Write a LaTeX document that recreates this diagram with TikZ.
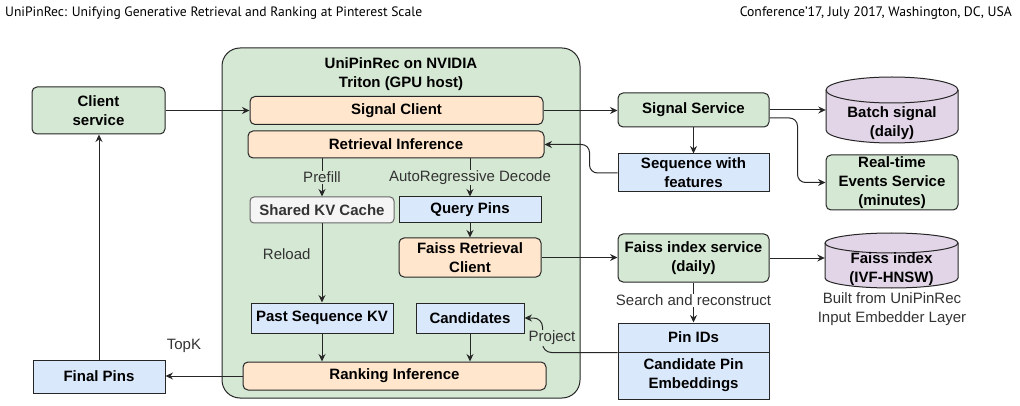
\documentclass[tikz,border=0pt]{standalone}
\usepackage{fontspec}
\setmainfont{Liberation Sans}
\newfontfamily\hdrfont{PT Sans}
\usetikzlibrary{arrows.meta}
\definecolor{cgreen}{HTML}{D5E8D4}
\definecolor{corange}{HTML}{FFE6CC}
\definecolor{cblue}{HTML}{DAE8FC}
\definecolor{cpurple}{HTML}{E1D5E7}
\definecolor{cgray}{HTML}{F5F5F5}
\definecolor{cgrayline}{HTML}{666666}
\definecolor{cgraytext}{HTML}{333333}
\definecolor{lc}{HTML}{262626}
\definecolor{lblc}{HTML}{333333}
\begin{document}
\begin{tikzpicture}[x=1pt,y=-1pt,
  every node/.style={font=\fontsize{15}{19}\selectfont\bfseries, align=center, inner sep=0pt, text=black},
  bx/.style={draw=lc, line width=1pt},
  grn/.style={bx, fill=cgreen, rounded corners=5pt},
  org/.style={bx, fill=corange, rounded corners=5pt},
  blu/.style={bx, fill=cblue},
  gry/.style={draw=cgrayline, line width=1pt, fill=cgray, text=cgraytext, rounded corners=4pt},
  arr/.style={-{Stealth[length=7.5pt,width=7pt,inset=2.5pt]}, line width=1pt, draw=lc},
  lbl/.style={font=\fontsize{15}{19}\selectfont, text=lblc, inner sep=1pt},
  hdr/.style={font=\fontsize{12}{14}\selectfont\hdrfont, text=black}
]
\useasboundingbox (0,0) rectangle (1020,406);

% header
\node[hdr, anchor=west] (hl) at (5,13) {\resizebox{417pt}{!}{UniPinRec: Unifying Generative Retrieval and Ranking at Pinterest Scale}};
\node[hdr, anchor=east] (hr) at (1012,13) {\resizebox{272pt}{!}{Conference’17, July 2017, Washington, DC, USA}};

% GPU container
\node[bx, fill=cgreen, rounded corners=18pt, minimum width=358pt, minimum height=350pt] (gpu) at (401,223) {};
\node (gputitle) at (401,74) {UniPinRec on NVIDIA\\Triton (GPU host)};

% left column
\node[grn, minimum width=133pt, minimum height=47pt] (cs) at (98.5,110.5) {Client\\service};
\node[blu, minimum width=132pt, minimum height=33pt] (final) at (99,376.5) {Final Pins};

% inside container
\node[org, minimum width=293pt, minimum height=28pt] (sc) at (396.5,110.5) {Signal Client};
\node[org, minimum width=296pt, minimum height=27pt] (ri) at (396,144.5) {Retrieval Inference};
\node[gry, minimum width=144pt, minimum height=26pt] (skv) at (322,210) {Shared KV Cache};
\node[blu, minimum width=142pt, minimum height=26pt] (qp) at (470,210) {Query Pins};
\node[org, minimum width=142pt, minimum height=39pt] (frc) at (470,257.5) {Faiss Retrieval\\Client};
\node[blu, minimum width=142pt, minimum height=30pt] (pskv) at (322,318) {Past Sequence KV};
\node[blu, minimum width=108pt, minimum height=30pt] (cand) at (470,318) {Candidates};
\node[org, minimum width=303pt, minimum height=28pt] (rank) at (394.5,376) {Ranking Inference};

% right side
\node[grn, minimum width=151pt, minimum height=34pt] (ss) at (693.5,110) {Signal Service};
\node[blu, minimum width=151pt, minimum height=38pt] (seq) at (693.5,173) {Sequence with\\features};
\node[grn, minimum width=132pt, minimum height=55pt] (rt) at (892,182.5) {Real-time\\Events Service\\(minutes)};
\node[grn, minimum width=151pt, minimum height=48pt] (fis) at (693.5,258) {Faiss index service\\(daily)};
\node[blu, minimum width=151pt, minimum height=29pt] (pin) at (693.5,337.5) {Pin IDs};
\node[blu, minimum width=151pt, minimum height=47pt] (cpe) at (693.5,375.5) {Candidate Pin\\Embeddings};

% cylinders
\node[minimum width=132pt, minimum height=66pt] (batch) at (892,110) {};
\draw[bx, fill=cpurple] (826,90) -- (826,130) arc[start angle=180,end angle=360,x radius=66pt,y radius=13pt] -- (958,90) arc[start angle=0,end angle=180,x radius=66pt,y radius=13pt] -- cycle;
\draw[bx] (826,90) arc[start angle=180,end angle=360,x radius=66pt,y radius=13pt];
\node (batchtxt) at (892,123) {Batch signal\\(daily)};

\node[minimum width=133pt, minimum height=55pt] (fidx) at (891.5,260.5) {};
\draw[bx, fill=cpurple] (825,243) -- (825,278) arc[start angle=180,end angle=360,x radius=66.5pt,y radius=10pt] -- (958,243) arc[start angle=0,end angle=180,x radius=66.5pt,y radius=10pt] -- cycle;
\draw[bx] (825,243) arc[start angle=180,end angle=360,x radius=66.5pt,y radius=10pt];
\node (fidxtxt) at (891.5,269.5) {Faiss index\\(IVF-HNSW)};
\node[lbl] (built) at (892,309.5) {Built from UniPinRec\\Input Embedder Layer};

% connectors
\draw[arr] (cs.east) -- (cs.east -| sc.west);
\draw[arr] (sc.east) -- (sc.east -| ss.west);
\draw[arr] (ss.east) -- (ss.east -| batch.west);
\draw[arr, rounded corners=8pt] ([yshift=-8pt]ss.east) -- ++(28,0) |- (rt.west);
\draw[arr] (ss.south) -- (seq.north);
\draw[arr, rounded corners=8pt] (seq.west) -- ++(-28,0) |- (ri.east);
\draw[arr] (ri.south -| skv.north) -- node[lbl, fill=cgreen, pos=0.5] {Prefill} (skv.north);
\draw[arr] (ri.south -| qp.north) -- node[lbl, fill=cgreen, pos=0.5] {AutoRegressive Decode} (qp.north);
\draw[arr] (qp.south) -- (frc.north);
\draw[arr] (frc.east) -- (frc.east -| fis.west);
\draw[arr] (fis.east) -- (fis.east -| fidx.west);
\draw[arr] (skv.south) -- node[lbl, pos=0.39, left=10pt] {Reload} (pskv.north);
\draw[arr] (pskv.south) -- (pskv.south |- rank.north);
\draw[arr] (cand.south) -- (cand.south |- rank.north);
\draw[arr] (rank.west) -- node[lbl, pos=0.76, yshift=30pt] {TopK} (rank.west -| final.east);
\draw[arr] (final.north) -- (final.north |- cs.south);
\draw[arr] (fis.south) -- node[lbl, fill=white, pos=0.45] {Search and reconstruct} (pin.north);
\draw[arr, rounded corners=9pt] (pin.south west) -- ++(-75,0) |- (cand.east);
\node[lbl, fill=cgreen] (proj) at (552,338) {Project};
\end{tikzpicture}
\end{document}
